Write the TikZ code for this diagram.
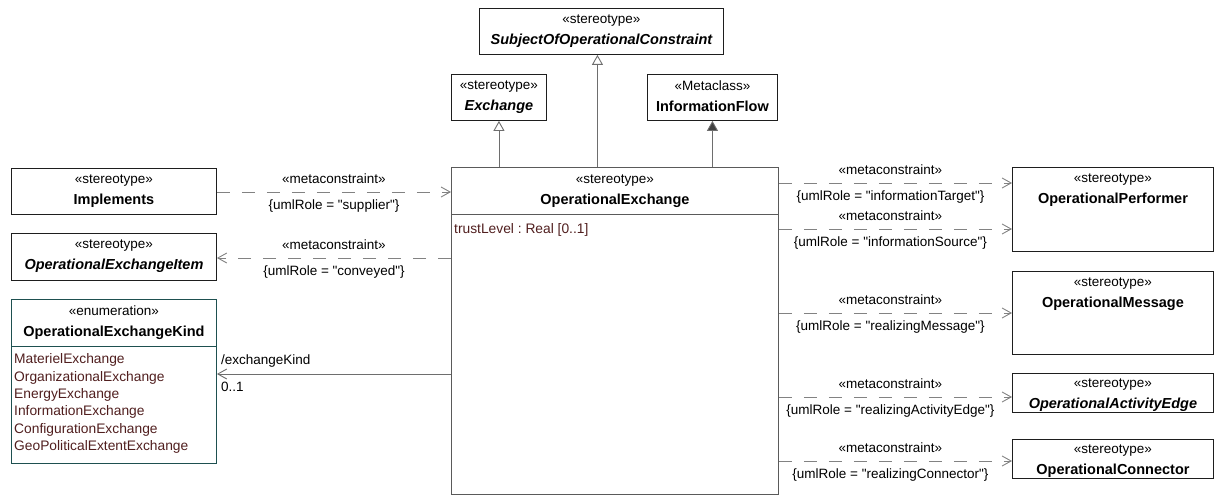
\documentclass[tikz,border=0pt]{standalone}
\usepackage{fontspec}
\setmainfont{Liberation Sans}[Ligatures=TeXOff]
\usetikzlibrary{arrows.meta, positioning, calc}

\definecolor{boxline}{RGB}{30,30,30}
\definecolor{oeline}{RGB}{90,90,90}
\definecolor{enumline}{RGB}{30,80,80}
\definecolor{dashgray}{RGB}{130,130,130}
\definecolor{genline}{RGB}{110,110,110}
\definecolor{attrcol}{RGB}{80,30,30}

\newcommand{\clsname}[1]{{\fontsize{14.5}{20.5}\selectfont\bfseries #1}}

\begin{document}
\frenchspacing
\begin{tikzpicture}[x=1pt, y=-1pt,
    umlbox/.style={draw=boxline, line width=0.9pt, anchor=north west, inner sep=0pt},
    title/.style={anchor=north, inner sep=0pt, align=center, font=\fontsize{13.5}{20.5}\selectfont},
    meta/.style={draw=dashgray, line width=0.9pt, dash pattern=on 13pt off 12pt, -{Straight Barb[length=9pt,width=10pt]}},
    gen/.style={draw=genline, line width=0.9pt, -{Triangle[length=10pt,width=11pt,fill=white]}},
    realize/.style={draw=genline, line width=0.9pt, -{Triangle[length=10pt,width=11pt,fill=black!75]}},
    assoc/.style={draw=genline, line width=0.9pt, -{Straight Barb[length=9pt,width=10pt]}},
    lab/.style={inner sep=2pt, font=\fontsize{13.5}{16}\selectfont},
    attr/.style={anchor=north west, inner sep=0pt, align=left, text=attrcol, font=\fontsize{13.8}{17.4}\selectfont}]

    \useasboundingbox (0,0) rectangle (1219,495);

    % Superclasses
    \node[umlbox, minimum width=244, minimum height=46] (subj) at (479,8) {};
    \node[title] (subj-t) at ($(subj.north)+(0,7)$) {«stereotype»\\\clsname{\itshape SubjectOfOperationalConstraint}};
    \node[umlbox, minimum width=95, minimum height=46] (exch) at (451,74) {};
    \node[title] (exch-t) at ($(exch.north)+(0,7)$) {«stereotype»\\\clsname{\itshape Exchange}};
    \node[umlbox, minimum width=130, minimum height=46] (iflow) at (647,74) {};
    \node[title] (iflow-t) at ($(iflow.north)+(0,7)$) {«Metaclass»\\\clsname{InformationFlow}};

    % Main stereotype
    \node[umlbox, draw=oeline, minimum width=327, minimum height=327] (oe) at (451,167) {};
    \node[title] (oe-t) at ($(oe.north)+(0,8)$) {«stereotype»\\\clsname{OperationalExchange}};
    \draw[oeline, line width=0.9pt] (oe.west |- 0,214) -- (oe.east |- 0,214);
    \node[attr] (oe-a) at (454,223.5) {trustLevel : Real [0..1]};

    % Left side
    \node[umlbox, minimum width=205, minimum height=46] (impl) at (11,168) {};
    \node[title] (impl-t) at ($(impl.north)+(0,7)$) {«stereotype»\\\clsname{Implements}};
    \node[umlbox, minimum width=205, minimum height=47] (item) at (11,233) {};
    \node[title] (item-t) at ($(item.north)+(0,7)$) {«stereotype»\\\clsname{\itshape OperationalExchangeItem}};
    \node[umlbox, draw=enumline, minimum width=205, minimum height=164] (kind) at (11,299) {};
    \node[title] (kind-t) at ($(kind.north)+(0,7)$) {«enumeration»\\\clsname{OperationalExchangeKind}};
    \draw[enumline, line width=0.9pt] (kind.west |- 0,346) -- (kind.east |- 0,346);
    \node[attr] (kind-a) at (14,353.5) {MaterielExchange\\OrganizationalExchange\\EnergyExchange\\InformationExchange\\ConfigurationExchange\\GeoPoliticalExtentExchange};

    % Right side
    \node[umlbox, minimum width=201, minimum height=84] (perf) at (1012,167) {};
    \node[title] (perf-t) at ($(perf.north)+(0,7)$) {«stereotype»\\\clsname{OperationalPerformer}};
    \node[umlbox, minimum width=201, minimum height=83] (msg) at (1012,271) {};
    \node[title] (msg-t) at ($(msg.north)+(0,7)$) {«stereotype»\\\clsname{OperationalMessage}};
    \node[umlbox, minimum width=201, minimum height=39] (edge) at (1012,373) {};
    \node[title] (edge-t) at ($(edge.north)+(0,6)$) {«stereotype»\\\clsname{\itshape OperationalActivityEdge}};
    \node[umlbox, minimum width=201, minimum height=39] (conn) at (1012,439) {};
    \node[title] (conn-t) at ($(conn.north)+(0,6)$) {«stereotype»\\\clsname{OperationalConnector}};

    % Generalizations
    \draw[gen] (exch.south |- oe.north) -- (exch.south);
    \draw[gen] ($(subj.south |- oe.north)+(-4,0)$) -- ($(subj.south)+(-4,0)$);
    \draw[realize] (iflow.south |- oe.north) -- (iflow.south);

    % Metaconstraints
    \draw[meta] (impl.east |- 0,192) -- (oe.west |- 0,192)
        node[lab, midway, above=6pt] (m1) {«metaconstraint»}
        node[lab, midway, below=5pt] (r1) {\{umlRole = "supplier"\}};
    \draw[meta] (oe.west |- 0,258) -- (item.east |- 0,258)
        node[lab, midway, above=6pt] (m2) {«metaconstraint»}
        node[lab, midway, below=5pt] (r2) {\{umlRole = "conveyed"\}};
    \draw[meta] (oe.east |- 0,183) -- (perf.west |- 0,183)
        node[lab, midway, above=6pt, xshift=-5pt] (m3) {«metaconstraint»}
        node[lab, midway, below=5pt, xshift=-5pt] (r3) {\{umlRole = "informationTarget"\}};
    \draw[meta] (oe.east |- 0,229) -- (perf.west |- 0,229)
        node[lab, midway, above=6pt, xshift=-5pt] (m4) {«metaconstraint»}
        node[lab, midway, below=5pt, xshift=-5pt] (r4) {\{umlRole = "informationSource"\}};
    \draw[meta] (oe.east |- 0,313) -- (msg.west |- 0,313)
        node[lab, midway, above=6pt, xshift=-5pt] (m5) {«metaconstraint»}
        node[lab, midway, below=5pt, xshift=-5pt] (r5) {\{umlRole = "realizingMessage"\}};
    \draw[meta] (oe.east |- 0,397) -- (edge.west |- 0,397)
        node[lab, midway, above=6pt, xshift=-5pt] (m6) {«metaconstraint»}
        node[lab, midway, below=5pt, xshift=-5pt] (r6) {\{umlRole = "realizingActivityEdge"\}};
    \draw[meta] (oe.east |- 0,461) -- (conn.west |- 0,461)
        node[lab, midway, above=6pt, xshift=-5pt] (m7) {«metaconstraint»}
        node[lab, midway, below=5pt, xshift=-5pt] (r7) {\{umlRole = "realizingConnector"\}};

    % Association
    \draw[assoc] (oe.west |- 0,374) -- (kind.east |- 0,374);
    \node[lab, anchor=base west, inner sep=0pt] (kind-role) at (221,364) {/exchangeKind};
    \node[lab, anchor=base west, inner sep=0pt] (kind-mult) at (221,391) {0..1};
\end{tikzpicture}
\end{document}
